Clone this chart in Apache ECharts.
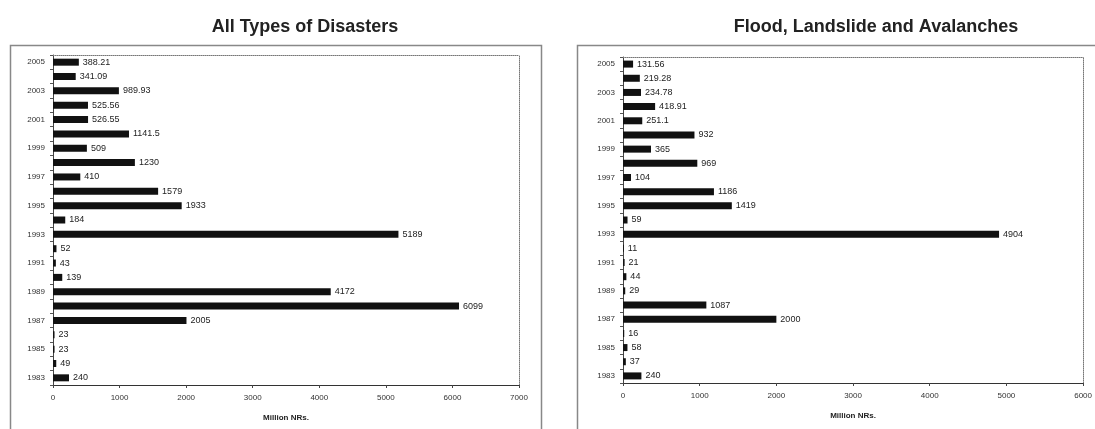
<!DOCTYPE html>
<html>
<head>
<meta charset="utf-8">
<script src="https://cdn.jsdelivr.net/npm/echarts@6/dist/echarts.min.js"></script>
<style>
  html, body { margin: 0; padding: 0; background: #fff; }
  #chart { width: 1095px; height: 429px; }
</style>
</head>
<body>
<div id="chart"></div>
<script>
// Years 1983 .. 2005
const years = ['1983','1984','1985','1986','1987','1988','1989','1990','1991','1992','1993','1994',
               '1995','1996','1997','1998','1999','2000','2001','2002','2003','2004','2005'];

// Losses, million NRs., all types of disasters
const allDisasters = [240, 49, 23, 23, 2005, 6099, 4172, 139, 43, 52, 5189, 184,
                      1933, 1579, 410, 1230, 509, 1141.5, 526.55, 525.56, 989.93, 341.09, 388.21];

// Losses, million NRs., flood, landslide and avalanches
const floodLandslide = [240, 37, 58, 16, 2000, 1087, 29, 44, 21, 11, 4904, 59,
                        1419, 1186, 104, 969, 365, 932, 251.1, 418.91, 234.78, 219.28, 131.56];

const titles = ['All Types of Disasters', 'Flood, Landslide and Avalanches'];
const axisTitle = 'Million NRs.';
const xMax = [7000, 6000];

const chart = echarts.init(document.getElementById('chart'), null, { renderer: 'canvas' });

const grids = [
  { left: 53, top: 55, width: 466, height: 330 },
  { left: 623, top: 57, width: 463, height: 326 }
];

function valueAxis(i) {
  return {
    type: 'value', gridIndex: i, min: 0, max: xMax[i], interval: 1000,
    name: axisTitle, nameLocation: 'middle', nameGap: 29,
    nameTextStyle: { fontFamily: 'Liberation Sans', fontWeight: 'bold', fontSize: 8, color: '#222' },
    axisLine: { show: true, onZero: false, lineStyle: { color: '#333', width: 1 } },
    axisTick: { show: true, length: 3, lineStyle: { color: '#444' } },
    axisLabel: { fontFamily: 'Liberation Sans', fontSize: 8, color: '#333', margin: 9,
                 formatter: v => String(v) },
    splitLine: { show: false }
  };
}
function frameX(i) {
  return {
    type: 'value', gridIndex: i, position: 'top', min: 0, max: xMax[i],
    axisLine: { show: true, onZero: false, lineStyle: { color: '#777', type: 'dotted', width: 1 } },
    axisTick: { show: false }, axisLabel: { show: false }, splitLine: { show: false }
  };
}
function catAxis(i) {
  return {
    type: 'category', gridIndex: i, data: years,
    axisLine: { show: true, onZero: false, lineStyle: { color: '#444', width: 1 } },
    axisTick: { show: true, interval: 0, length: 3, lineStyle: { color: '#555' } },
    axisLabel: { interval: 1, fontFamily: 'Liberation Sans', fontSize: 8, color: '#333', margin: 8 }
  };
}
function frameY(i) {
  return {
    type: 'category', gridIndex: i, data: years, position: 'right',
    axisLine: { show: true, onZero: false, lineStyle: { color: '#777', type: 'dotted', width: 1 } },
    axisTick: { show: false }, axisLabel: { show: false }
  };
}
function barSeries(i, data) {
  return {
    type: 'bar', xAxisIndex: i * 2, yAxisIndex: i * 2, data: data,
    barWidth: 7,
    itemStyle: { color: '#111' },
    label: { show: true, position: 'right', distance: 4, fontFamily: 'Liberation Sans',
             fontSize: 9, color: '#222' },
    silent: true
  };
}

chart.setOption({
  animation: false,
  backgroundColor: '#fff',
  title: [
    { text: titles[0], left: 300, top: 13, textAlign: 'center',
      textStyle: { fontFamily: 'Liberation Sans', fontWeight: 'bold', fontSize: 18, color: '#222' } },
    { text: titles[1], left: 871, top: 13, textAlign: 'center',
      textStyle: { fontFamily: 'Liberation Sans', fontWeight: 'bold', fontSize: 18, color: '#222' } }
  ],
  graphic: [
    { type: 'rect', shape: { x: 10.5, y: 45.5, width: 531, height: 400 },
      style: { fill: null, stroke: '#888', lineWidth: 1.5 }, silent: true },
    { type: 'rect', shape: { x: 577.5, y: 45.5, width: 540, height: 400 },
      style: { fill: null, stroke: '#888', lineWidth: 1.5 }, silent: true }
  ],
  grid: grids,
  xAxis: [valueAxis(0), frameX(0), valueAxis(1), frameX(1)],
  yAxis: [catAxis(0), frameY(0), catAxis(1), frameY(1)],
  series: [barSeries(0, allDisasters), barSeries(1, floodLandslide)]
});
</script>
</body>
</html>
